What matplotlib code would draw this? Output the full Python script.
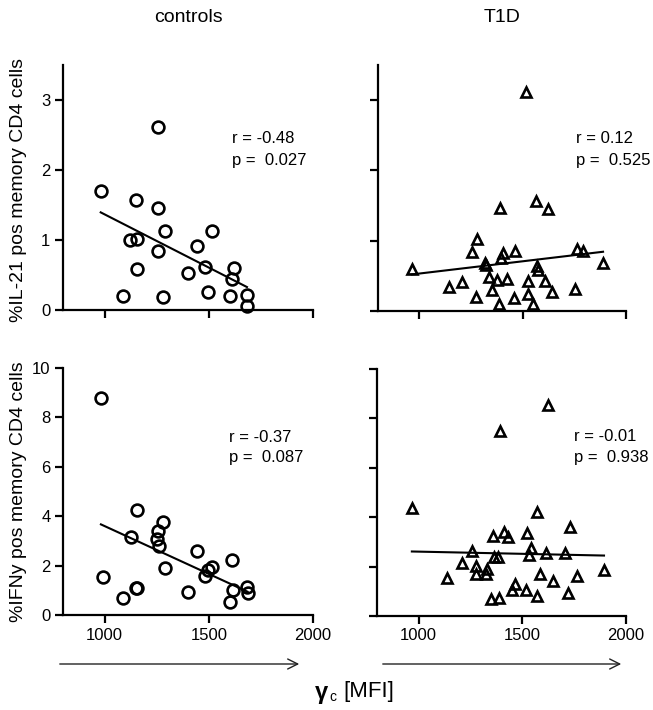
import matplotlib
matplotlib.use("Agg")
import matplotlib.pyplot as plt
import numpy as np

plt.rcParams['font.family'] = ['Liberation Sans', 'DejaVu Sans']

# controls, %IL-21
ctl_il21_x = [981, 1257, 1148, 1257, 1121, 1156, 1288, 1513, 1257, 1442, 1153,
              1402, 1482, 1619, 1611, 1088, 1280, 1495, 1601, 1683, 1683]
ctl_il21_y = [1.70, 2.62, 1.57, 1.46, 1.00, 1.01, 1.13, 1.13, 0.85, 0.91, 0.58,
              0.53, 0.61, 0.60, 0.45, 0.20, 0.18, 0.26, 0.20, 0.21, 0.06]

# T1D, %IL-21
t1d_il21_x = [963, 1518, 1566, 1621, 1389, 1279, 1253, 1318, 1323, 1405, 1397,
              1463, 1765, 1792, 1889, 1568, 1576, 1339, 1376, 1424, 1524, 1608,
              1206, 1144, 1350, 1642, 1753, 1273, 1460, 1524, 1387, 1548]
t1d_il21_y = [0.60, 3.11, 1.56, 1.45, 1.47, 1.03, 0.84, 0.69, 0.65, 0.83, 0.75,
              0.85, 0.88, 0.85, 0.68, 0.64, 0.59, 0.48, 0.44, 0.46, 0.43, 0.43,
              0.41, 0.34, 0.30, 0.27, 0.31, 0.20, 0.18, 0.24, 0.10, 0.10]

# controls, %IFNy
ctl_ifn_x = [982, 990, 1153, 1124, 1282, 1257, 1252, 1262, 1288, 1444, 1514,
             1495, 1482, 1611, 1617, 1600, 1685, 1686, 1402, 1088, 1148, 1156]
ctl_ifn_y = [8.80, 1.52, 4.25, 3.14, 3.75, 3.41, 3.06, 2.79, 1.90, 2.61, 1.93,
             1.81, 1.58, 2.21, 1.01, 0.51, 1.13, 0.89, 0.93, 0.67, 1.08, 1.08]

# T1D, %IFNy
t1d_ifn_x = [968, 1624, 1392, 1569, 1732, 1358, 1410, 1432, 1521, 1544, 1258,
             1616, 1706, 1532, 1366, 1382, 1210, 1277, 1331, 1277, 1323, 1137,
             1584, 1766, 1894, 1650, 1465, 1453, 1518, 1573, 1721, 1347, 1389]
t1d_ifn_y = [4.39, 8.54, 7.50, 4.22, 3.62, 3.24, 3.40, 3.18, 3.35, 2.74, 2.63,
             2.56, 2.54, 2.46, 2.38, 2.38, 2.13, 2.02, 1.92, 1.69, 1.69, 1.52,
             1.69, 1.62, 1.85, 1.43, 1.30, 1.05, 1.05, 0.82, 0.94, 0.69, 0.74]

stats = [("r = -0.48", "p =  0.027"), ("r = 0.12", "p =  0.525"),
         ("r = -0.37", "p =  0.087"), ("r = -0.01", "p =  0.938")]

W, H = 653, 710
fig = plt.figure(figsize=(W / 100, H / 100), dpi=100)

def px_axes(x0, y0, x1, y1):
    return fig.add_axes([x0 / W, 1 - y1 / H, (x1 - x0) / W, (y1 - y0) / H])

ax_tl = px_axes(63, 65, 313, 310)
ax_tr = px_axes(378, 65, 626, 311)
ax_bl = px_axes(63, 368, 313, 615)
ax_br = px_axes(377, 369, 626, 616)

panels = [
    (ax_tl, ctl_il21_x, ctl_il21_y, 'o', (0, 3.5), [0, 1, 2, 3], (0.676, 0.698, 0.612)),
    (ax_tr, t1d_il21_x, t1d_il21_y, '^', (0, 3.5), [0, 1, 2, 3], (0.80, 0.700, 0.612)),
    (ax_bl, ctl_ifn_x, ctl_ifn_y, 'o', (0, 10), [0, 2, 4, 6, 8, 10], (0.664, 0.720, 0.637)),
    (ax_br, t1d_ifn_x, t1d_ifn_y, '^', (0, 10), [0, 2, 4, 6, 8, 10], (0.79, 0.726, 0.641)),
]

for i, (ax, xs, ys, mk, ylim, yt, tpos) in enumerate(panels):
    xs = np.array(xs, dtype=float)
    ys = np.array(ys, dtype=float)
    if mk == 'o':
        ax.plot(xs, ys, 'o', ms=8.5, mfc='none', mec='black', mew=1.9, clip_on=False)
    else:
        ax.plot(xs, ys, '^', ms=7.5, mfc='none', mec='black', mew=1.9, clip_on=False)
    # droite de regression
    k, b = np.polyfit(xs, ys, 1)
    xx = np.array([xs.min(), xs.max()])
    ax.plot(xx, k * xx + b, color='black', lw=1.5)

    ax.set_xlim(800, 2000)
    ax.set_ylim(*ylim)
    ax.set_xticks([1000, 1500, 2000])
    ax.set_yticks(yt)
    for s in ['top', 'right']:
        ax.spines[s].set_visible(False)
    for s in ['left', 'bottom']:
        ax.spines[s].set_linewidth(1.6)
    ax.tick_params(width=1.6, length=6, labelsize=12, pad=3)
    if i in (1, 3):
        ax.set_yticklabels([])
    if i in (0, 1):
        ax.set_xticklabels([])

    ax.text(tpos[0], tpos[1], stats[i][0], transform=ax.transAxes,
            fontsize=12, va='center', ha='left')
    ax.text(tpos[0], tpos[2], stats[i][1], transform=ax.transAxes,
            fontsize=12, va='center', ha='left')

fig.text(188 / W, 1 - 18 / H, "controls", fontsize=14, ha='center', va='center')
fig.text(502 / W, 1 - 18 / H, "T1D", fontsize=14, ha='center', va='center')

fig.text(19 / W, 1 - 190 / H, "%IL-21 pos memory CD4 cells", fontsize=14,
         rotation=90, ha='center', va='center')
fig.text(19 / W, 1 - 492 / H, "%IFNy pos memory CD4 cells", fontsize=14,
         rotation=90, ha='center', va='center')

# fleches sous les axes x
for x0, x1 in [(57, 302), (380, 624)]:
    fig.add_artist(matplotlib.patches.FancyArrowPatch(
        (x0 / W, 1 - 664 / H), (x1 / W, 1 - 664 / H), transform=fig.transFigure,
        arrowstyle='->', mutation_scale=18, lw=1.0, color='#222222'))

fig.text(315 / W, 1 - 693 / H, "γ", fontsize=17, fontweight='bold', ha='left', va='center')
fig.text(329 / W, 1 - 697 / H, "c", fontsize=10, ha='left', va='center')
fig.text(343 / W, 1 - 692 / H, "[MFI]", fontsize=16, ha='left', va='center')

fig.savefig("out.png", dpi=100)
